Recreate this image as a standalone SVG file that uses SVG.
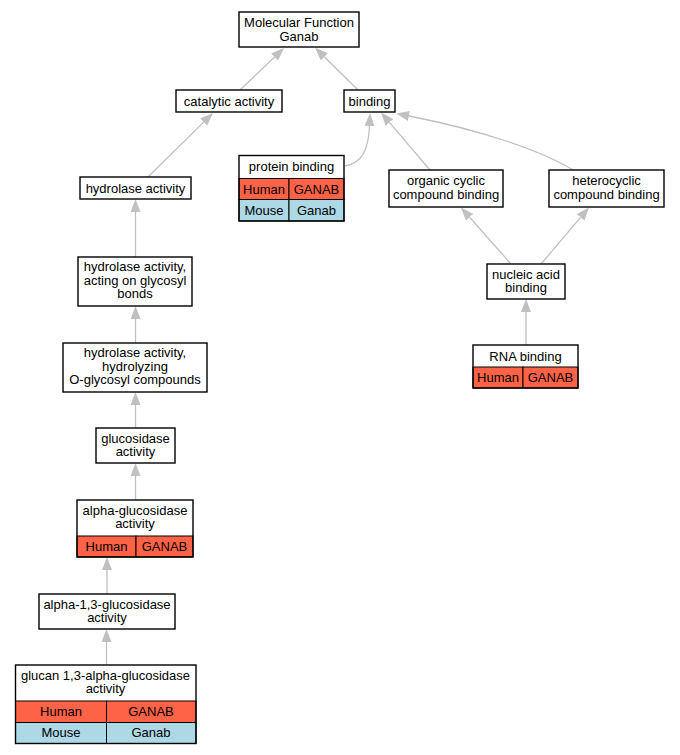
<svg xmlns="http://www.w3.org/2000/svg" width="680" height="755" viewBox="0 0 680 755">
<style>
text{font-family:"Liberation Sans",Arial,sans-serif;font-size:13px;fill:#000;text-anchor:middle}
.box{fill:#fff;stroke:#000;stroke-width:1.4}
.hum{fill:#ff6347;stroke:#000;stroke-width:1}
.mou{fill:#add8e6;stroke:#000;stroke-width:1}
.out{fill:none;stroke:#000;stroke-width:1.4}
.e{fill:none;stroke:#c0c0c0;stroke-width:1.3;marker-end:url(#ah)}
</style>
<defs>
<marker id="ah" markerUnits="userSpaceOnUse" markerWidth="13" markerHeight="10" refX="0" refY="5" orient="auto" viewBox="0 0 13 10"><path d="M0,0 L13,5 L0,10 z" fill="#c0c0c0"/></marker>
</defs>
<rect width="680" height="755" fill="#fff"/>
<g id="edges">
<path class="e" d="M240,90 L274.6,57"/>
<path class="e" d="M358,90 L324.3,56.8"/>
<path class="e" d="M148,177 L203.7,122.1"/>
<path class="e" d="M345,166 C362,163 368.5,150 369.5,126"/>
<path class="e" d="M430,170 L389.4,122.4"/>
<path class="e" d="M573,170 C540,150 480,130 409,116"/>
<path class="e" d="M135.5,257 L135.5,212"/>
<path class="e" d="M511,264 L469.6,217.2"/>
<path class="e" d="M541,264 L580.6,217.4"/>
<path class="e" d="M526,345 L526,312"/>
<path class="e" d="M135.5,343 L135.5,319"/>
<path class="e" d="M135.5,428 L135.5,405"/>
<path class="e" d="M135.5,500 L135.5,476"/>
<path class="e" d="M107,594 L107,570"/>
<path class="e" d="M106.5,665 L106.5,642"/>
</g>
<g id="n_mf">
<rect class="box" x="239" y="12" width="120" height="35"/>
<text x="299" y="27">Molecular Function</text>
<text x="299" y="40.5">Ganab</text>
</g>
<g id="n_catalytic">
<rect class="box" x="176" y="90" width="106" height="22"/>
<text x="229" y="105.5">catalytic activity</text>
</g>
<g id="n_binding">
<rect class="box" x="344" y="90" width="51" height="22"/>
<text x="369.5" y="105.5">binding</text>
</g>
<g id="n_protein">
<rect x="239" y="155.5" width="105" height="23" fill="#fff"/>
<rect class="hum" x="239" y="178.5" width="50" height="21"/>
<rect class="hum" x="289" y="178.5" width="55" height="21"/>
<rect class="mou" x="239" y="199.5" width="50" height="21.5"/>
<rect class="mou" x="289" y="199.5" width="55" height="21.5"/>
<rect class="out" x="239" y="155.5" width="105" height="65.5"/>
<text x="291.5" y="171">protein binding</text>
<text x="264" y="193.5">Human</text>
<text x="316.5" y="193.5">GANAB</text>
<text x="264" y="214.5">Mouse</text>
<text x="316.5" y="214.5">Ganab</text>
</g>
<g id="n_organic">
<rect class="box" x="389" y="170" width="114" height="37"/>
<text x="446" y="185">organic cyclic</text>
<text x="446" y="198.5">compound binding</text>
</g>
<g id="n_hetero">
<rect class="box" x="549" y="170" width="115" height="37"/>
<text x="606.5" y="185">heterocyclic</text>
<text x="606.5" y="198.5">compound binding</text>
</g>
<g id="n_hydrolase">
<rect class="box" x="80" y="177" width="111" height="22"/>
<text x="135.5" y="192.5">hydrolase activity</text>
</g>
<g id="n_acting">
<rect class="box" x="78" y="257" width="114" height="49"/>
<text x="135" y="271">hydrolase activity,</text>
<text x="135" y="284.5">acting on glycosyl</text>
<text x="135" y="298">bonds</text>
</g>
<g id="n_nucleic">
<rect class="box" x="487" y="264" width="78" height="35"/>
<text x="526" y="278.5">nucleic acid</text>
<text x="526" y="292">binding</text>
</g>
<g id="n_hydrolyzing">
<rect class="box" x="63" y="343" width="144" height="49"/>
<text x="135" y="357">hydrolase activity,</text>
<text x="135" y="370.5">hydrolyzing</text>
<text x="135" y="384">O-glycosyl compounds</text>
</g>
<g id="n_rna">
<rect x="473" y="345" width="105" height="22" fill="#fff"/>
<rect class="hum" x="473" y="367" width="50" height="21"/>
<rect class="hum" x="523" y="367" width="55" height="21"/>
<rect class="out" x="473" y="345" width="105" height="43"/>
<text x="525.5" y="360.5">RNA binding</text>
<text x="498" y="382">Human</text>
<text x="550.5" y="382">GANAB</text>
</g>
<g id="n_glucosidase">
<rect class="box" x="96" y="428" width="79" height="35"/>
<text x="135.5" y="442.5">glucosidase</text>
<text x="135.5" y="456">activity</text>
</g>
<g id="n_alphagluc">
<rect x="77" y="500" width="116" height="36" fill="#fff"/>
<rect class="hum" x="77" y="536" width="59" height="21"/>
<rect class="hum" x="136" y="536" width="57" height="21"/>
<rect class="out" x="77" y="500" width="116" height="57"/>
<text x="135" y="514.5">alpha-glucosidase</text>
<text x="135" y="528">activity</text>
<text x="106.5" y="550.5">Human</text>
<text x="164.5" y="550.5">GANAB</text>
</g>
<g id="n_alpha13">
<rect class="box" x="39" y="594" width="136" height="35"/>
<text x="107" y="608.5">alpha-1,3-glucosidase</text>
<text x="107" y="622">activity</text>
</g>
<g id="n_glucan">
<rect x="15.5" y="665" width="180.5" height="36" fill="#fff"/>
<rect class="hum" x="15.5" y="701" width="91" height="21.5"/>
<rect class="hum" x="106.5" y="701" width="89.5" height="21.5"/>
<rect class="mou" x="15.5" y="722.5" width="91" height="21"/>
<rect class="mou" x="106.5" y="722.5" width="89.5" height="21"/>
<rect class="out" x="15.5" y="665" width="180.5" height="78.5"/>
<text x="105.5" y="679.5">glucan 1,3-alpha-glucosidase</text>
<text x="105.5" y="693">activity</text>
<text x="61" y="715.5">Human</text>
<text x="151" y="715.5">GANAB</text>
<text x="61" y="737">Mouse</text>
<text x="151" y="737">Ganab</text>
</g>
</svg>
